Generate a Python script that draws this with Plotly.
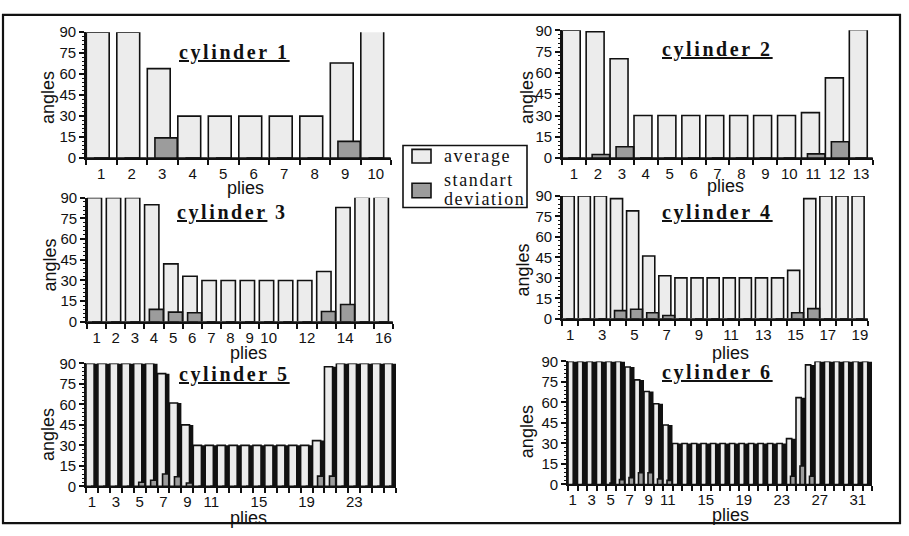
import plotly.graph_objects as go

W, H = 909, 536

# ---------------- data ----------------
plies1 = [1, 2, 3, 4, 5, 6, 7, 8, 9, 10]
avg1 = [90, 90, 64, 30, 30, 30, 30, 30, 68, 91.5]
std1 = [0, 0, 14.5, 0, 0, 0, 0, 0, 12, 0]
ticks1 = [1, 2, 3, 4, 5, 6, 7, 8, 9, 10]

plies2 = [1, 2, 3, 4, 5, 6, 7, 8, 9, 10, 11, 12, 13]
avg2 = [90, 89, 70, 30, 30, 30, 30, 30, 30, 30, 32, 56.5, 90.5]
std2 = [0, 2.5, 8, 0, 0, 0, 0, 0, 0, 0, 3, 11.5, 0]
ticks2 = [1, 2, 3, 4, 5, 6, 7, 8, 9, 10, 11, 12, 13]

plies3 = [1, 2, 3, 4, 5, 6, 7, 8, 9, 10, 11, 12, 13, 14, 15, 16]
avg3 = [90, 90, 90, 85, 42, 33, 30, 30, 30, 30, 30, 30, 36.5, 83, 90.5, 90.5]
std3 = [0, 0, 0, 9, 7, 6.5, 0, 0, 0, 0, 0, 0, 7.5, 12.5, 0, 0]
ticks3 = [1, 2, 3, 4, 5, 6, 7, 8, 9, 10, 12, 14, 16]

plies4 = [1, 2, 3, 4, 5, 6, 7, 8, 9, 10, 11, 12, 13, 14, 15, 16, 17, 18, 19]
avg4 = [90, 90, 90, 88, 79, 46, 31.5, 30, 30, 30, 30, 30, 30, 30, 35.5, 88, 90, 90, 90]
std4 = [0, 0, 0, 6, 7, 4.5, 2.5, 0, 0, 0, 0, 0, 0, 0, 4.5, 7.5, 0, 0, 0]
ticks4 = [1, 3, 5, 7, 9, 11, 13, 15, 17, 19]

plies5 = [1, 2, 3, 4, 5, 6, 7, 8, 9, 10, 11, 12, 13, 14, 15, 16, 17, 18, 19, 20,
          21, 22, 23, 24, 25, 26]
avg5 = [90, 90, 90, 90, 90, 90, 82.5, 61, 45, 30, 30, 30, 30, 30, 30, 30, 30, 30, 30,
        33.5, 87.5, 90, 90, 90, 90, 90]
std5 = [0, 0, 0, 0, 3, 4.5, 9, 7, 2.5, 0, 0, 0, 0, 0, 0, 0, 0, 0, 0,
        7.5, 7.5, 0, 0, 0, 0, 0]
ticks5 = [1, 3, 5, 7, 9, 11, 15, 19, 23]

plies6 = [1, 2, 3, 4, 5, 6, 7, 8, 9, 10, 11, 12, 13, 14, 15, 16, 17, 18, 19, 20,
          21, 22, 23, 24, 25, 26, 27, 28, 29, 30, 31, 32]
avg6 = [90, 90, 90, 90, 90, 90, 86, 76.5, 68, 59, 43.5, 30, 30, 30, 30, 30, 30, 30,
        30, 30, 30, 30, 30, 33.5, 63.5, 87.5, 90, 90, 90, 90, 90, 90]
std6 = [0, 0, 0, 0, 1, 3.5, 5, 8.5, 8.5, 4, 3, 0, 0, 0, 0, 0, 0, 0,
        0, 0, 0, 0, 0, 6, 13.5, 6, 0, 0, 0, 0, 0, 0]
ticks6 = [1, 3, 5, 7, 9, 11, 15, 19, 23, 27, 31]

titles = ["cylinder 1", "cylinder 2", "cylinder 3", "cylinder 4", "cylinder 5", "cylinder 6"]
y_ticks = [0, 15, 30, 45, 60, 75, 90]
legend_labels = ["average", "standart", "deviation"]

panels = [
    (plies1, avg1, std1, ticks1),
    (plies2, avg2, std2, ticks2),
    (plies3, avg3, std3, ticks3),
    (plies4, avg4, std4, ticks4),
    (plies5, avg5, std5, ticks5),
    (plies6, avg6, std6, ticks6),
]

# ---------------- layout geometry (pixels) ----------------
# left, right, top(90), bottom(0)
boxes = [
    (86, 391, 24, 154),
    (562, 873, 22, 154),
    (87, 393, 195, 323),
    (562, 868, 193, 320),
    (86, 396, 366, 493),
    (568, 872, 364, 491),
]
title_pos = [(235, 45), (717, 42), (233, 210), (717, 210), (235, 377), (717, 375)]
angles_pos = [(48, 92), (527, 92), (50, 265), (523, 270), (48, 440), (527, 437)]
plies_pos = [(245, 185), (725, 183), (248, 355), (730, 355), (248, 526), (730, 523)]

AVG_FILL = "#ececec"
STD_FILL = "#9c9c9c"
INK = "#111111"
SANS = "Liberation Sans, Arial, sans-serif"
SERIF = "Liberation Serif, Times New Roman, serif"


def px(x):
    return x / W


def py(y):
    return 1 - y / H


fig = go.Figure()
layout = dict(
    width=W, height=H,
    margin=dict(l=0, r=0, t=0, b=0),
    paper_bgcolor="white", plot_bgcolor="white",
    barmode="overlay",
    showlegend=False,
    annotations=[], shapes=[],
)

for i, (plies, avg, std, tks) in enumerate(panels):
    k = i + 1
    xa = "x" if k == 1 else f"x{k}"
    ya = "y" if k == 1 else f"y{k}"
    l, r, t, b = boxes[i]
    dense = k >= 5
    n = len(plies)

    if dense:
        # dark filling between the narrow columns of the dense panels
        fig.add_trace(go.Bar(
            x=plies, y=avg, xaxis=xa, yaxis=ya, offset=-0.5, width=1.0,
            marker=dict(color=INK, line=dict(color=INK, width=0)),
            cliponaxis=False, hoverinfo="skip"))
        aw = 0.68 if k == 5 else 0.55
        a_off, s_off, sw = -0.5, -0.08, 0.52
    else:
        aw, a_off, s_off, sw = 0.75, -0.49, -0.24, 0.73

    fig.add_trace(go.Bar(
        x=plies, y=avg, xaxis=xa, yaxis=ya, offset=a_off, width=aw,
        marker=dict(color=AVG_FILL, line=dict(color=INK, width=1.6)),
        name="average", cliponaxis=False))
    fig.add_trace(go.Bar(
        x=plies, y=std, xaxis=xa, yaxis=ya, offset=s_off, width=sw,
        marker=dict(color=STD_FILL, line=dict(color=INK, width=1.6)),
        name="standart deviation", cliponaxis=False))

    xkey = "xaxis" if k == 1 else f"xaxis{k}"
    ykey = "yaxis" if k == 1 else f"yaxis{k}"
    layout[xkey] = dict(
        domain=[px(l), px(r)], anchor=ya, range=[0.5, n + 0.5],
        tickmode="array", tickvals=tks, ticktext=[str(v) for v in tks],
        ticks="outside", ticklen=1, tickcolor="rgba(0,0,0,0)",
        minor=dict(tickmode="array", tickvals=[p - 0.5 for p in plies] + [n + 0.5],
                   ticks="outside", ticklen=5, tickwidth=1.5, tickcolor=INK),
        showline=True, linecolor=INK, linewidth=1.8,
        showgrid=False, zeroline=False, fixedrange=True,
        tickfont=dict(family=SANS, size=15, color=INK),
    )
    layout[ykey] = dict(
        domain=[py(b), py(t)], anchor=xa, range=[0, 90],
        tickmode="array", tickvals=y_ticks,
        ticks="outside", ticklen=5, tickwidth=1.5, tickcolor=INK,
        minor=dict(tickmode="linear", tick0=0, dtick=3, ticks="outside",
                   ticklen=2.5, tickwidth=1.2, tickcolor=INK),
        showline=True, linecolor=INK, linewidth=1.8,
        showgrid=False, zeroline=False, fixedrange=True,
        tickfont=dict(family=SANS, size=15, color=INK),
    )

    tx, ty = title_pos[i]
    if k == 3:
        ttxt = ('<span style="letter-spacing:2.6px"><b><span style="text-decoration:underline">'
                'cylinder</span> 3</b></span>')
    else:
        ttxt = ('<span style="letter-spacing:2.6px;text-decoration:underline"><b>'
                + titles[i] + '</b></span>')
    layout["annotations"].append(dict(
        x=px(tx), y=py(ty), xref="paper", yref="paper", text=ttxt,
        showarrow=False, xanchor="center", yanchor="middle",
        font=dict(family=SERIF, size=20, color=INK)))
    ax_, ay_ = angles_pos[i]
    layout["annotations"].append(dict(
        x=px(ax_), y=py(ay_), xref="paper", yref="paper", text="angles",
        showarrow=False, textangle=-90, xanchor="center", yanchor="middle",
        font=dict(family=SANS, size=18, color=INK)))
    qx, qy = plies_pos[i]
    layout["annotations"].append(dict(
        x=px(qx), y=py(qy), xref="paper", yref="paper", text="plies",
        showarrow=False, xanchor="center", yanchor="middle",
        font=dict(family=SANS, size=18, color=INK)))

# ---------------- legend box (drawn) ----------------
layout["shapes"].append(dict(
    type="rect", xref="paper", yref="paper",
    x0=px(403), x1=px(527), y0=py(205), y1=py(141),
    line=dict(color=INK, width=1.6), fillcolor="white"))
layout["shapes"].append(dict(
    type="rect", xref="paper", yref="paper",
    x0=px(412), x1=px(431), y0=py(159), y1=py(145),
    line=dict(color=INK, width=1.6), fillcolor=AVG_FILL))
layout["shapes"].append(dict(
    type="rect", xref="paper", yref="paper",
    x0=px(412), x1=px(431), y0=py(195), y1=py(180),
    line=dict(color=INK, width=1.6), fillcolor=STD_FILL))
for txt, yy in zip(legend_labels, [152, 177, 196]):
    layout["annotations"].append(dict(
        x=px(442), y=py(yy), xref="paper", yref="paper",
        text='<span style="letter-spacing:1.6px">' + txt + '</span>',
        showarrow=False, xanchor="left", yanchor="middle",
        font=dict(family=SERIF, size=18, color=INK)))

# outer frame
layout["shapes"].append(dict(
    type="rect", xref="paper", yref="paper",
    x0=px(3), x1=px(900), y0=py(531), y1=py(6),
    line=dict(color=INK, width=2.2), fillcolor="rgba(0,0,0,0)", layer="below"))

fig.update_layout(**layout)
fig.write_html("out.html")
